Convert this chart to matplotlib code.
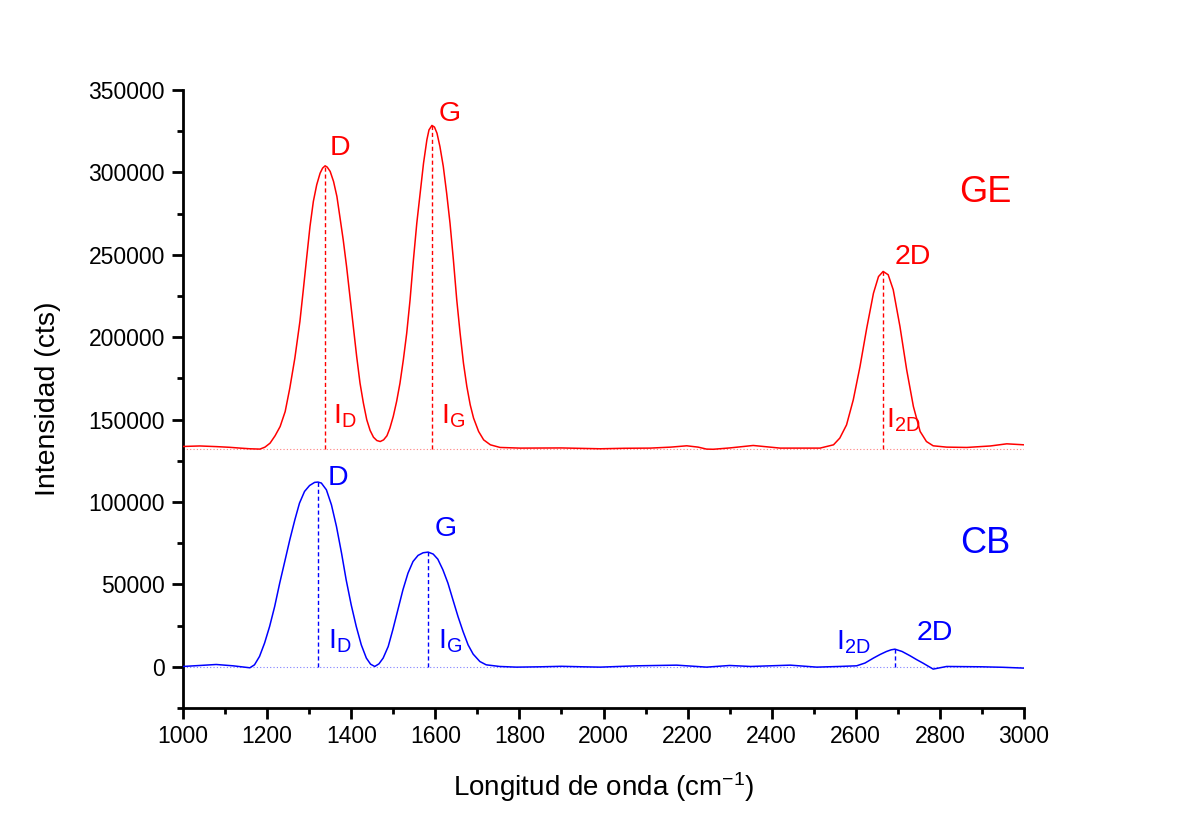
import matplotlib
matplotlib.use("Agg")
import matplotlib.pyplot as plt
from matplotlib.ticker import MultipleLocator

plt.rcParams['font.family'] = ['Liberation Sans', 'DejaVu Sans']
plt.rcParams['mathtext.fontset'] = 'custom'
plt.rcParams['mathtext.rm'] = 'Liberation Sans'
plt.rcParams['mathtext.it'] = 'Liberation Sans'

# Raman shift (cm^-1) and intensity (cts) for the GE sample
ge_x = [1000, 1040, 1080, 1110, 1136, 1159, 1183, 1195, 1207, 1219, 1231, 1243,
        1254, 1266, 1278, 1286, 1294, 1302, 1310, 1318, 1326, 1332, 1338, 1343,
        1350, 1358, 1366, 1373, 1381, 1389, 1397, 1405, 1413, 1421, 1429, 1437,
        1445, 1453, 1461, 1469, 1477, 1485, 1492, 1500, 1508, 1516, 1524, 1532,
        1540, 1548, 1556, 1564, 1572, 1580, 1585, 1592, 1598, 1604, 1611, 1619,
        1627, 1635, 1643, 1651, 1659, 1667, 1675, 1683, 1691, 1703, 1715, 1731,
        1754, 1802, 1900, 1992, 2050, 2111, 2160, 2198, 2225, 2245, 2261, 2300,
        2356, 2420, 2480, 2515, 2547, 2562, 2578, 2594, 2610, 2626, 2642, 2654,
        2665, 2677, 2689, 2705, 2721, 2737, 2753, 2768, 2784, 2816, 2864, 2920,
        2959, 3000]
ge_y = [133700, 134000, 133600, 133200, 132700, 132300, 132100, 133300, 135700,
        140200, 145800, 154900, 169100, 187300, 209500, 228500, 248000, 267200,
        282400, 292500, 299500, 302600, 304000, 303200, 300600, 294500, 285400,
        273200, 259100, 242900, 224700, 206500, 188300, 172100, 160000, 149900,
        143400, 139300, 137300, 136700, 137700, 140200, 144800, 151900, 161000,
        172100, 186300, 202400, 222700, 247000, 269200, 287400, 305600, 319800,
        325800, 328500, 327500, 323800, 315700, 303600, 287400, 269200, 247000,
        222700, 202400, 184200, 170100, 159000, 150900, 142800, 137700, 134700,
        133100, 132700, 132800, 132300, 132600, 132700, 133300, 134100, 133300,
        132100, 132000, 132800, 134300, 132700, 132700, 132700, 134700, 138800,
        146800, 162000, 182200, 205500, 226700, 236800, 239900, 237900, 228800,
        206500, 180200, 157900, 142800, 136700, 134100, 133300, 133100, 134000,
        135300, 134700]

# Raman shift (cm^-1) and intensity (cts) for the CB sample
cb_x = [1000, 1040, 1079, 1119, 1159, 1170, 1182, 1194, 1206, 1218, 1230, 1242,
        1254, 1266, 1277, 1289, 1301, 1313, 1321, 1329, 1341, 1353, 1365, 1377,
        1388, 1400, 1412, 1424, 1436, 1446, 1456, 1466, 1476, 1488, 1499, 1511,
        1523, 1535, 1547, 1559, 1571, 1583, 1595, 1606, 1618, 1630, 1642, 1654,
        1666, 1678, 1690, 1706, 1721, 1753, 1793, 1850, 1900, 1950, 1992, 2080,
        2174, 2245, 2300, 2350, 2444, 2507, 2560, 2602, 2622, 2642, 2658, 2673,
        2684, 2693, 2710, 2729, 2745, 2760, 2784, 2816, 2900, 2950, 3000]
cb_y = [200, 800, 1400, 600, -600, 1200, 6300, 14400, 24500, 36600, 50800, 63900,
        77100, 89200, 99300, 106400, 110000, 111900, 112100, 111500, 107400, 98300,
        85100, 69000, 52800, 37600, 24500, 13300, 5300, 1600, 200, 1800, 5300,
        12300, 22500, 34600, 46700, 56800, 63900, 67600, 69200, 69600, 68400,
        65300, 58900, 50800, 40600, 30500, 21400, 13300, 7700, 3200, 1200, 200,
        -200, 0, 300, 0, -200, 600, 1000, -200, 800, 200, 1000, -200, 200, 600,
        2300, 5300, 7500, 9300, 10300, 10700, 9300, 6700, 4300, 2200, -1400, 200,
        0, -300, -800]

# Band positions and peak intensities
ge_band_x = [1338, 1592, 2665]
ge_band_y = [304000, 328500, 239900]
ge_base = 132000
cb_band_x = [1321, 1583, 2693]
cb_band_y = [112100, 69600, 10700]
cb_base = 0

RED = '#FF0000'
BLUE = '#0000FF'

fig = plt.figure(figsize=(11.87, 8.21), dpi=100)
ax = fig.add_axes([183 / 1187, 1 - 708 / 821, 841 / 1187, 618 / 821])

# baselines
ax.axhline(ge_base, color='#ff8080', lw=0.8, ls=(0, (1, 2)), zorder=1)
ax.axhline(cb_base, color='#8080ff', lw=0.8, ls=(0, (1, 2)), zorder=1)

# spectra
ax.plot(ge_x, ge_y, color=RED, lw=1.1, zorder=3)
ax.plot(cb_x, cb_y, color=BLUE, lw=1.1, zorder=3)

# band intensity markers
for bx, by in zip(ge_band_x, ge_band_y):
    ax.plot([bx, bx], [ge_base, by], color=RED, lw=1.0, ls=(0, (3, 2)), zorder=2)
for bx, by in zip(cb_band_x, cb_band_y):
    ax.plot([bx, bx], [cb_base, by], color=BLUE, lw=1.0, ls=(0, (3, 2)), zorder=2)

fs = 20.5
# GE band labels
ax.text(1373, 315000, 'D', color=RED, fontsize=fs, ha='center', va='center')
ax.text(1635, 335600, 'G', color=RED, fontsize=fs, ha='center', va='center')
ax.text(2736, 248800, '2D', color=RED, fontsize=fs, ha='center', va='center')
ax.text(1357, 152000, r'$\mathregular{I_D}$', color=RED, fontsize=fs, ha='left', va='center')
ax.text(1613, 152000, r'$\mathregular{I_G}$', color=RED, fontsize=fs, ha='left', va='center')
ax.text(2671, 149500, r'$\mathregular{I_{2D}}$', color=RED, fontsize=fs, ha='left', va='center')
ax.text(2907, 287600, 'GE', color=RED, fontsize=26, ha='center', va='center')

# CB band labels
ax.text(1369, 114700, 'D', color=BLUE, fontsize=fs, ha='center', va='center')
ax.text(1625, 83700, 'G', color=BLUE, fontsize=fs, ha='center', va='center')
ax.text(2788, 20600, '2D', color=BLUE, fontsize=fs, ha='center', va='center')
ax.text(1345, 15500, r'$\mathregular{I_D}$', color=BLUE, fontsize=fs, ha='left', va='center')
ax.text(1607, 15500, r'$\mathregular{I_G}$', color=BLUE, fontsize=fs, ha='left', va='center')
ax.text(2553, 15000, r'$\mathregular{I_{2D}}$', color=BLUE, fontsize=fs, ha='left', va='center')
ax.text(2907, 74600, 'CB', color=BLUE, fontsize=26, ha='center', va='center')

ax.set_xlim(1000, 3000)
ax.set_ylim(-25000, 350000)
ax.xaxis.set_major_locator(MultipleLocator(200))
ax.xaxis.set_minor_locator(MultipleLocator(100))
ax.yaxis.set_major_locator(MultipleLocator(50000))
ax.yaxis.set_minor_locator(MultipleLocator(25000))

for s in ('top', 'right'):
    ax.spines[s].set_visible(False)
for s in ('left', 'bottom'):
    ax.spines[s].set_linewidth(2.0)

ax.tick_params(which='major', direction='out', length=8, width=2.0, labelsize=16.5)
ax.tick_params(axis='y', which='major', pad=5)
ax.tick_params(axis='x', which='major', pad=4)
ax.tick_params(which='minor', direction='out', length=4.5, width=2.0)

ax.set_xlabel(r'Longitud de onda (cm$^\mathregular{-1}$)', fontsize=20, labelpad=16)
ax.set_ylabel('Intensidad (cts)', fontsize=20.5, labelpad=20)

fig.savefig('out.png', dpi=100)
